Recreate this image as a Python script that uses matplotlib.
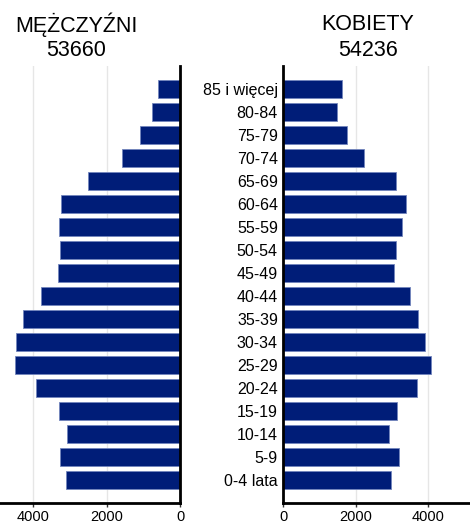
#!/usr/bin/env python3
# -*- coding: utf-8 -*-
"""
Population pyramid: men vs women by age group.
"""

import numpy as np
import matplotlib
matplotlib.use("Agg")
import matplotlib.pyplot as plt

plt.rcParams['font.family'] = ['Liberation Sans', 'DejaVu Sans']

AGE_GROUPS = ["0-4 lata", "5-9", "10-14", "15-19", "20-24", "25-29", "30-34",
              "35-39", "40-44", "45-49", "50-54", "55-59", "60-64", "65-69",
              "70-74", "75-79", "80-84", "85 i więcej"]

MEN = [3120, 3270, 3070, 3310, 3920, 4500, 4480, 4290, 3800, 3330,
       3270, 3310, 3240, 2500, 1590, 1080, 760, 590]
WOMEN = [2980, 3190, 2925, 3140, 3690, 4060, 3920, 3725, 3495, 3065,
         3100, 3285, 3385, 3120, 2220, 1755, 1490, 1610]

MEN_TOTAL = "53660"
WOMEN_TOTAL = "54236"
MEN_TITLE = "MĘŻCZYŹNI"
WOMEN_TITLE = "KOBIETY"

XTICKS = [0, 2000, 4000]

BAR_COLOR = "#001d78"
EDGE_COLOR = "#7385bd"
GRID_COLOR = "#e6e6e6"


def style_axis(ax):
    for side in ["top", "left", "right", "bottom"]:
        ax.spines[side].set_visible(False)
    ax.spines["bottom"].set_visible(True)
    ax.spines["bottom"].set_linewidth(2)
    ax.set_xticks(XTICKS)
    ax.set_xticklabels([str(t) for t in XTICKS], fontsize=10.5)
    ax.tick_params(axis="x", length=3, width=1, color="#333333", pad=2)
    ax.grid(axis="x", color=GRID_COLOR, linewidth=1)
    ax.set_axisbelow(True)
    ax.set_ylim(-1, len(AGE_GROUPS))


def main():
    fig = plt.figure(figsize=(4.7, 5.25), dpi=100)
    pos = np.arange(len(AGE_GROUPS))

    ax_l = fig.add_axes([0.0, 0.042, 0.383, 0.832])
    ax_r = fig.add_axes([0.603, 0.042, 0.397, 0.832])

    ax_l.barh(pos, MEN, height=0.76, color=BAR_COLOR, edgecolor=EDGE_COLOR, linewidth=0.6)
    ax_r.barh(pos, WOMEN, height=0.76, color=BAR_COLOR, edgecolor=EDGE_COLOR, linewidth=0.6)

    style_axis(ax_l)
    style_axis(ax_r)

    ax_l.set_xlim(4910, 0)
    ax_r.set_xlim(0, 5150)

    ax_l.spines["right"].set_visible(True)
    ax_l.spines["right"].set_linewidth(2)
    ax_l.set_yticks([])

    ax_r.spines["left"].set_visible(True)
    ax_r.spines["left"].set_linewidth(2)
    ax_r.set_yticks(pos)
    ax_r.set_yticklabels(AGE_GROUPS, fontsize=11.5)
    ax_r.tick_params(axis="y", length=0, pad=4)

    fig.text(76 / 470, 1 - 25 / 525, MEN_TITLE, ha="center", va="center", fontsize=15.5)
    fig.text(76 / 470, 1 - 50 / 525, MEN_TOTAL, ha="center", va="center", fontsize=15.5)
    fig.text(368 / 470, 1 - 25 / 525, WOMEN_TITLE, ha="center", va="center", fontsize=15.5)
    fig.text(368 / 470, 1 - 50 / 525, WOMEN_TOTAL, ha="center", va="center", fontsize=15.5)

    fig.savefig("out.png", dpi=100)


if __name__ == "__main__":
    main()
